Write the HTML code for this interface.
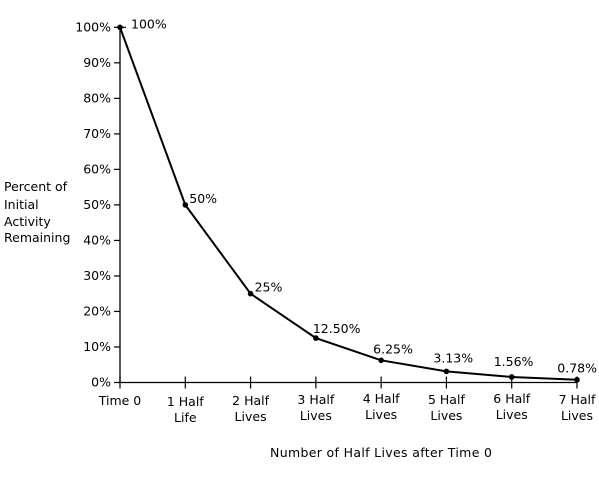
<!DOCTYPE html>
<html><head><meta charset="utf-8"><style>
html,body{margin:0;padding:0;background:#fff;}
svg{display:block;font-family:"DejaVu Sans","Liberation Sans",sans-serif;font-size:12.5px;fill:#000;}
</style></head><body>
<svg id="chart" width="599" height="504" viewBox="0 0 599 504">
<g id="axes"></g>
<g id="series"></g>
<text x="4" y="191">Percent of</text>
<text x="4" y="209">Initial</text>
<text x="4" y="226">Activity</text>
<text x="4" y="242">Remaining</text>
<text x="270" y="457" textLength="222">Number of Half Lives after Time 0</text>
</svg>
<script>
const categories1 = ["Time 0","1 Half","2 Half","3 Half","4 Half","5 Half","6 Half","7 Half"];
const categories2 = ["","Life","Lives","Lives","Lives","Lives","Lives","Lives"];
const values = [100,50,25,12.5,6.25,3.13,1.56,0.78];
const valueLabels = ["100%","50%","25%","12.50%","6.25%","3.13%","1.56%","0.78%"];
const yTicks = [0,10,20,30,40,50,60,70,80,90,100];
const NS="http://www.w3.org/2000/svg";
const x0=120, x1=577, yTop=27.3, yBot=382.5;
function xs(i){return x0+(x1-x0)*i/(categories1.length-1);}
function ys(v){return yBot-(yBot-yTop)*v/100;}
function mk(tag,attrs,parent){const e=document.createElementNS(NS,tag);for(const k in attrs)e.setAttribute(k,attrs[k]);parent.appendChild(e);return e;}
const ax=document.getElementById('axes'), se=document.getElementById('series');
let l=mk('line',{x1:x0,y1:yTop,x2:x0,y2:yBot,stroke:'#000','stroke-width':1.3},ax);


l=mk('line',{x1:x0,y1:yBot,x2:x1,y2:yBot,stroke:'#000','stroke-width':1.3},ax);


yTicks.forEach(v=>{
  const y=ys(v);
  const t=mk('line',{x1:x0-6,y1:y,x2:x0+6*(v===100?1:0),y2:y,stroke:'#000','stroke-width':1.2},ax);
  
  
  const tx=mk('text',{x:x0-9,y:y+4,'text-anchor':'end'},ax);tx.textContent=v+'%';
  
  
});
categories1.forEach((c,i)=>{
  const x=xs(i);
  const t=mk('line',{x1:x,y1:yBot-6,x2:x,y2:yBot+6,stroke:'#000','stroke-width':1.2},ax);
  
  
  const dy=i%2===1?0:-1;
  const a=mk('text',{x:x,y:406+dy+(i>=3?-2:0),'text-anchor':'middle'},ax);a.textContent=c;
  
  
  if(categories2[i]){const b=mk('text',{x:x,y:422+dy+(i>=3?-2:0),'text-anchor':'middle'},ax);b.textContent=categories2[i];
  
  }
});
const pts=values.map((v,i)=>xs(i)+','+ys(v)).join(' ');
const pl=mk('polyline',{points:pts,fill:'none',stroke:'#000','stroke-width':2},se);


const last=values.length-1;
values.forEach((v,i)=>{
  const c=mk('circle',{cx:xs(i),cy:ys(v),r:2.8,fill:'#000'},se);
  
  
  let x, anchor='start', dy=2;
  if(i===0){x=xs(i)+11;dy=-1;}
  else if(i<3){x=xs(i)+4;}
  else if(i===last){x=597;anchor='end';dy=7;}
  else {x=xs(i)-3-(i-3)*5;dy=5+(i-3)*2;}
  const t=mk('text',{x:x,y:ys(v)-dy,'text-anchor':anchor},se);
  t.textContent=valueLabels[i];
  
  
});
</script>
</body></html>
